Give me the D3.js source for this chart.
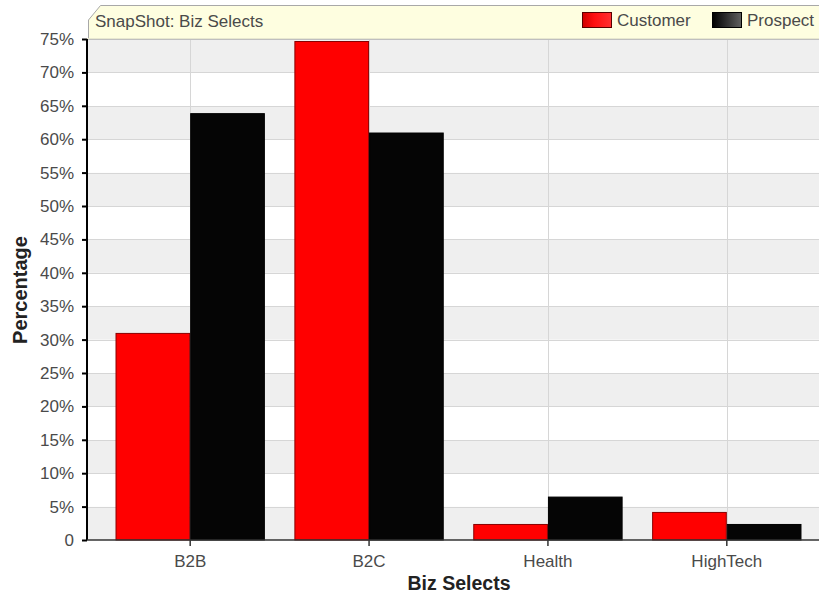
<!DOCTYPE html>
<html>
<head>
<meta charset="utf-8">
<script src="https://cdn.jsdelivr.net/npm/d3@7"></script>
<style>
  html, body { margin: 0; padding: 0; background: #ffffff; }
  svg { display: block; font-family: "Liberation Sans", Arial, sans-serif; }
</style>
</head>
<body>
<svg id="chart" width="819" height="596"></svg>
<script>
// Chart data
const categories = ["B2B", "B2C", "Health", "HighTech"];
const seriesNames = ["Customer", "Prospect"];
const customerValues = [31, 74.7, 2.4, 4.2];
const prospectValues = [63.9, 61, 6.5, 2.4];
const yTickValues = [0, 5, 10, 15, 20, 25, 30, 35, 40, 45, 50, 55, 60, 65, 70, 75];
const chartTitle = "SnapShot: Biz Selects";
const xTitle = "Biz Selects";
const yTitle = "Percentage";

const seriesValues = [customerValues, prospectValues];
const fills = ["#ff0000", "#050505"];
const strokes = ["#8a0000", "#000000"];

const svg = d3.select("#chart");
const W = 819, H = 596;
const plotLeft = 87, plotRight = 831, plotTop = 39, plotBottom = 540;

const x = d3.scaleBand().domain(categories).range([plotLeft - 1, plotRight]).padding(0.165);
const xs = d3.scaleBand().domain(seriesNames).range([0, x.bandwidth()]);
const y = d3.scaleLinear().domain([0, 75]).range([plotBottom, plotTop]);

// Alternating horizontal bands
const bands = yTickValues.slice(0, -1);
svg.append("g").selectAll("rect").data(bands).join("rect")
  .attr("x", plotLeft).attr("width", W - plotLeft)
  .attr("y", d => y(d + 5)).attr("height", d => y(d) - y(d + 5))
  .attr("fill", (d, i) => i % 2 === 0 ? "#efefef" : "#ffffff");

// Grid lines
const grid = svg.append("g").attr("stroke", "#d6d6d6").attr("stroke-width", 1);
grid.selectAll("line.h").data(yTickValues.slice(1)).join("line")
  .attr("class", "h")
  .attr("x1", plotLeft).attr("x2", W)
  .attr("y1", d => Math.round(y(d)) + 0.5).attr("y2", d => Math.round(y(d)) + 0.5);
grid.selectAll("line.v").data(categories).join("line")
  .attr("class", "v")
  .attr("x1", d => Math.round(x(d) + x.bandwidth() / 2) + 0.5)
  .attr("x2", d => Math.round(x(d) + x.bandwidth() / 2) + 0.5)
  .attr("y1", plotTop).attr("y2", plotBottom);

// Bars
const groups = svg.append("g").selectAll("g").data(categories).join("g")
  .attr("transform", d => `translate(${x(d)},0)`);
groups.selectAll("rect")
  .data((c, ci) => seriesNames.map((s, si) => ({ s, si, v: seriesValues[si][ci] })))
  .join("rect")
  .attr("x", d => xs(d.s) + 0.5)
  .attr("width", xs.bandwidth() - 1)
  .attr("y", d => y(d.v) + 0.5)
  .attr("height", d => y(0) - y(d.v) - 0.5)
  .attr("fill", d => fills[d.si])
  .attr("stroke", d => strokes[d.si])
  .attr("stroke-width", 1);

// Y axis
const yAxis = svg.append("g").attr("transform", `translate(${plotLeft},0)`)
  .call(d3.axisLeft(y).tickValues(yTickValues).tickSize(5).tickPadding(8)
    .tickFormat(d => d === 0 ? "0" : d + "%"));
yAxis.select(".domain").attr("stroke", "#000").attr("stroke-width", 2).attr("d", `M0,${plotTop}V${plotBottom}`);
yAxis.selectAll(".tick line").attr("stroke", "#000").attr("stroke-width", 2);
yAxis.selectAll(".tick text").attr("fill", "#4a4a4a").style("font-size", "17px")
  .style("font-family", "'Liberation Sans', Arial, sans-serif");

// X axis
const xAxis = svg.append("g").attr("transform", `translate(0,${plotBottom})`)
  .call(d3.axisBottom(x).tickSize(6).tickPadding(9));
xAxis.select(".domain").attr("stroke", "#333").attr("stroke-width", 1.5).attr("d", `M${plotLeft},0H${W}`);
xAxis.selectAll(".tick line").attr("stroke", "#333").attr("stroke-width", 1.5);
xAxis.selectAll(".tick text").attr("fill", "#4a4a4a").style("font-size", "17px")
  .style("font-family", "'Liberation Sans', Arial, sans-serif");

// Axis titles
svg.append("text")
  .attr("x", (plotLeft + plotRight) / 2).attr("y", 590)
  .attr("text-anchor", "middle")
  .attr("fill", "#222").style("font-size", "19.5px").style("font-weight", "bold")
  .text(xTitle);
svg.append("text")
  .attr("transform", `translate(27,290) rotate(-90)`)
  .attr("text-anchor", "middle")
  .attr("fill", "#222").style("font-size", "20px").style("font-weight", "bold")
  .text(yTitle);

// Title banner with bevelled corner
svg.append("path")
  .attr("d", `M88.5,${plotTop}V20L100.5,5.5H${W + 2}V${plotTop}Z`)
  .attr("fill", "#fefee0").attr("stroke", "#a8a8a8").attr("stroke-width", 1);
svg.append("line").attr("x1", plotLeft).attr("x2", W).attr("y1", plotTop - 0.5).attr("y2", plotTop - 0.5)
  .attr("stroke", "#e8e8d0");
svg.append("text")
  .attr("x", 95).attr("y", 27)
  .attr("fill", "#4a4a4a").style("font-size", "17px")
  .text(chartTitle);

// Legend
const defs = svg.append("defs");
const g1 = defs.append("linearGradient").attr("id", "gradCustomer");
g1.append("stop").attr("offset", "0%").attr("stop-color", "#d00000");
g1.append("stop").attr("offset", "40%").attr("stop-color", "#ff1010");
g1.append("stop").attr("offset", "100%").attr("stop-color", "#ff3030");
const g2 = defs.append("linearGradient").attr("id", "gradProspect");
g2.append("stop").attr("offset", "0%").attr("stop-color", "#000000");
g2.append("stop").attr("offset", "100%").attr("stop-color", "#606060");
const legendX = [582, 712];
const legend = svg.append("g").selectAll("g").data(seriesNames).join("g")
  .attr("transform", (d, i) => `translate(${legendX[i]},12)`);
legend.append("rect")
  .attr("x", 0.5).attr("y", 0.5).attr("width", 29).attr("height", 15)
  .attr("fill", (d, i) => i === 0 ? "url(#gradCustomer)" : "url(#gradProspect)")
  .attr("stroke", (d, i) => i === 0 ? "#5a0000" : "#000");
legend.append("text")
  .attr("x", 35).attr("y", 14)
  .attr("fill", "#4a4a4a").style("font-size", "17px")
  .text(d => d);
</script>
</body>
</html>
